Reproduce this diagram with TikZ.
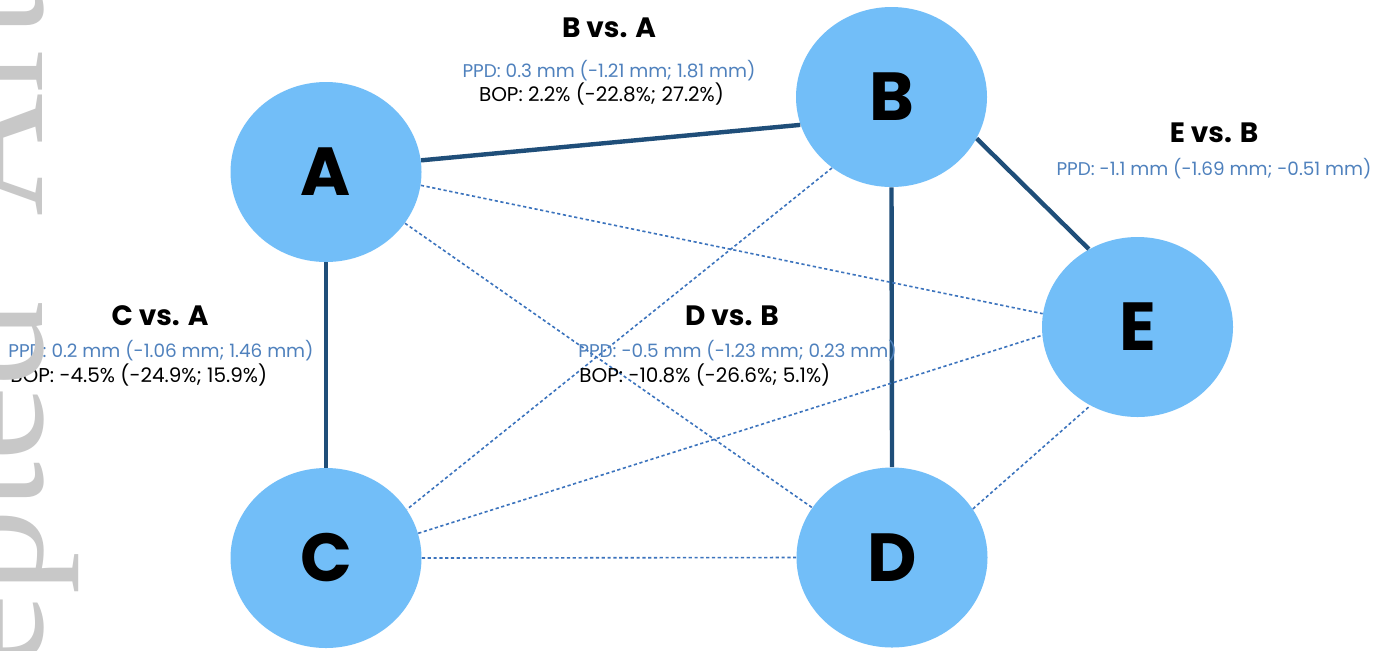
\documentclass[tikz,border=0pt]{standalone}
\usepackage{fontspec}
\setmainfont{Poppins}[Numbers=Monospaced]
\newfontfamily\wmfont{Liberation Serif}
\usetikzlibrary{shapes.geometric}
\definecolor{nodefill}{HTML}{72BEF8}
\definecolor{solidline}{HTML}{1F4E79}
\definecolor{dotline}{HTML}{3B73BD}
\definecolor{ppdblue}{HTML}{4F81BD}
\definecolor{wmgray}{HTML}{C8C8C8}
\begin{document}
\begin{tikzpicture}[x=0.5pt,y=-0.5pt,
 circ/.style={ellipse, fill=nodefill, minimum width=95.5pt, minimum height=90pt, inner sep=0pt, font=\fontsize{34}{34}\selectfont\bfseries},
 strong/.style={draw=solidline, line width=2.2pt},
 weak/.style={draw=dotline, line width=0.8pt, dash pattern=on 1.6pt off 1.3pt},
 head/.style={anchor=base, font=\fontsize{14}{14}\selectfont\bfseries, inner sep=0pt},
 ppd/.style={font=\fontsize{9.2}{9.2}\selectfont, text=ppdblue, inner sep=0pt},
 bop/.style={font=\fontsize{10}{10}\selectfont, text=black, inner sep=0pt},
 wm/.style={rotate=90, anchor=base west, text=wmgray, inner sep=0pt, font=\wmfont\fontsize{85}{85}\selectfont},
]
\useasboundingbox (0,0) rectangle (1390,650);
\clip (0,0) rectangle (1390,650);
\fill[white] (0,0) rectangle (1390,650);

\node[circ] (A) at (326,172) {A};
\node[circ] (B) at (891.5,97) {B};
\node[circ] (C) at (326,558) {C};
\node[circ] (D) at (892,557.5) {D};
\node[circ] (E) at (1137.5,327) {E};

\draw[strong] (A.7) -- (B.197);
\draw[strong] (A.south) -- (C.north);
\draw[strong] (B.south) -- (D.north);
\draw[strong] (B.-26) -- (E.122);
\draw[weak] (A.-8) -- (E.172);
\draw[weak] (A.-33) -- (D.148);
\draw[weak] (B.230) -- (C.31);
\draw[weak] (C.15) -- (E.185);
\draw[weak] (C.east) -- (D.west);
\draw[weak] (D.31) -- (E.239);

\node[head] (hBA) at (609,37) {B vs. A};
\node[ppd, anchor=base] (pBA) at (609,77) {PPD: 0.3 mm (-1.21 mm; 1.81 mm)};
\node[bop, anchor=base] (bBA) at (601.5,101) {BOP: 2.2\% (-22.8\%; 27.2\%)};

\node[head] (hEB) at (1214,142) {E vs. B};
\node[ppd, anchor=base] (pEB) at (1214,175) {PPD: -1.1 mm (-1.69 mm; -0.51 mm)};

\node[head] (hCA) at (160,325) {C vs. A};
\node[ppd, anchor=base west] (pCA) at (8,357) {PPD: 0.2 mm (-1.06 mm; 1.46 mm)};
\node[bop, anchor=base west] (bCA) at (10,382) {BOP: -4.5\% (-24.9\%; 15.9\%)};

\node[head] (hDB) at (732,325) {D vs. B};
\node[ppd, anchor=base west] (pDB) at (578,357) {PPD: -0.5 mm (-1.23 mm; 0.23 mm)};
\node[bop, anchor=base west] (bDB) at (579,382) {BOP: -10.8\% (-26.6\%; 5.1\%)};

\node[wm] (wm) at (42,217) {\llap{Accepted\hspace{0.5em}}Article};
\end{tikzpicture}
\end{document}
